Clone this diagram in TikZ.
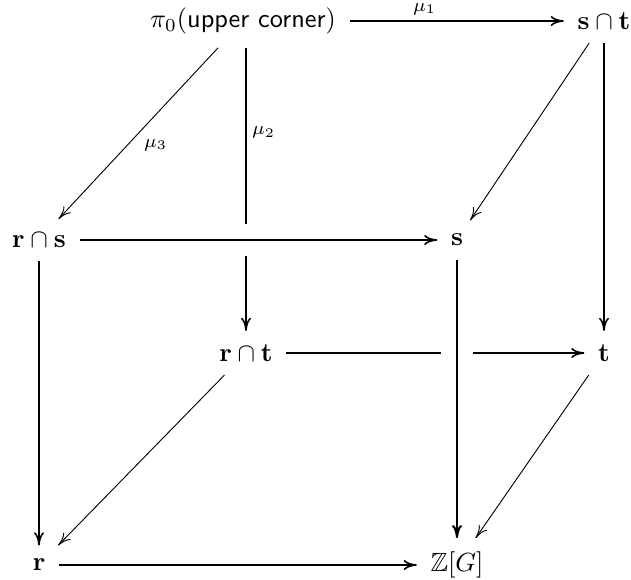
\documentclass[tikz,border=0pt]{standalone}
\usepackage{amsmath,amssymb}
\usepackage{tikz}
\usetikzlibrary{arrows.meta}

\begin{document}
\begin{tikzpicture}[>={To[length=5pt,width=3.8pt]},x={(0.38pt,0)},y={(0,-0.38pt)},
  every node/.style={inner sep=5pt},
  map/.style={->,line width=0.6pt},
  heavy/.style={->,line width=0.8pt},
  slant/.style={->,line width=0.35pt},
  over/.style={preaction={draw=white,line width=12.5pt,-}},
  lbl/.style={font=\scriptsize,inner sep=2pt}]
  \useasboundingbox (0,0) rectangle (631,580);
  % corners of the cube
  \node (top) at (243,21) {$\pi_0(\textsf{upper corner})$};
  \node (st)  at (604,21) {$\mathbf{s}\cap\mathbf{t}$};
  \node (rs)  at (39,240) {$\mathbf{r}\cap\mathbf{s}$};
  \node (s)   at (457,240) {$\mathbf{s}$};
  \node (rt)  at (246,353) {$\mathbf{r}\cap\mathbf{t}$};
  \node (t)   at (604,353) {$\mathbf{t}$};
  \node (r)   at (39,565) {$\mathbf{r}$};
  \node (zg)  at (457,565) {$\mathbb{Z}[G]$};
  % back face
  \draw[map] (top) -- node[lbl,above,pos=0.35]{$\mu_1$} (st);
  \draw[map] (top.south -| rt) -- node[lbl,right,pos=0.3]{$\mu_2$} (rt);
  \draw[slant] (top) -- node[lbl,below right,pos=0.5]{$\mu_3$} (rs);
  \draw[slant] (st) -- (s);
  \draw[map] (st) -- (t);
  \draw[map] (rt) -- (t);
  % front face, drawn over the back one
  \draw[map,over] (rs) -- (s);
  \draw[map] (rs) -- (r);
  \draw[heavy,over] (s) -- (zg);
  \draw[map] (r) -- (zg);
  \draw[slant] (rt) -- (r);
  \draw[slant] (t) -- (zg);
\end{tikzpicture}
\end{document}
